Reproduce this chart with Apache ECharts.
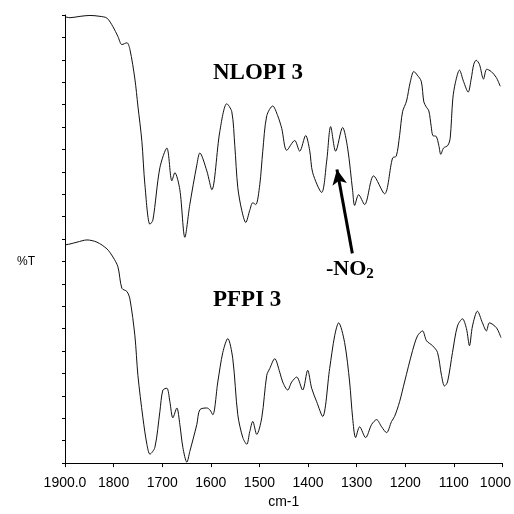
<!DOCTYPE html>
<html>
<head>
<meta charset="utf-8">
<script src="https://cdn.jsdelivr.net/npm/echarts@6/dist/echarts.min.js"></script>
<style>
html, body { margin: 0; padding: 0; background: #fff; }
#chart { width: 514px; height: 514px; }
</style>
</head>
<body>
<div id="chart"></div>
<script>
// wavenumbers (cm-1) and transmittance for the two spectra (top one offset)
var nlopiWn = [1900, 1889.7, 1869, 1848.6, 1828, 1813.7, 1801.4, 1791.1, 1782.9, 1772.6, 1766.4, 1756.2, 1750, 1741.8, 1735.6, 1725.3, 1719.2, 1704.8, 1690.4, 1680.1, 1674, 1663.7, 1653.4, 1643.2, 1628.8, 1622.6, 1608.2, 1597.9, 1581.5, 1567.1, 1556.8, 1550.7, 1544.5, 1536.3, 1528.1, 1519.9, 1513.7, 1507.5, 1499.3, 1493.1, 1484.9, 1472.6, 1462.3, 1454.1, 1443.8, 1427.4, 1417.1, 1404.8, 1396.6, 1390.4, 1371.9, 1361.6, 1353.4, 1343.1, 1328.8, 1318.5, 1308.2, 1304.1, 1295.9, 1283.6, 1265.1, 1242.5, 1226, 1218.4, 1211.6, 1205.5, 1197.3, 1189.7, 1182.3, 1175.3, 1167, 1161.7, 1156.8, 1151.4, 1146.5, 1143.2, 1136.2, 1130.9, 1126.8, 1121.2, 1112.4, 1107.5, 1102.1, 1096.6, 1088.4, 1080.1, 1070.5, 1064.3, 1059, 1054, 1047.3, 1039, 1032.3, 1023.2, 1012.9, 1004.5];
var nlopiT = [99.6, 99.4, 99.7, 99.9, 99.7, 99.3, 97.4, 95.2, 93.4, 93.8, 92.3, 85.7, 79.7, 71.8, 62.1, 53.3, 54.2, 65.9, 70.3, 63.0, 64.8, 61.0, 50.4, 57.7, 66.5, 69.2, 65.2, 61.0, 74.0, 80.2, 78.4, 70.9, 61.5, 56.4, 53.7, 56.4, 58.1, 57.7, 62.1, 69.6, 77.5, 79.7, 77.5, 74.7, 69.8, 72.0, 69.6, 73.1, 69.8, 64.8, 60.4, 67.4, 75.1, 69.6, 74.9, 70.3, 60.8, 57.5, 59.9, 57.7, 64.1, 60.1, 68.1, 68.5, 73.1, 78.4, 80.8, 85.0, 87.4, 86.6, 85.2, 80.6, 79.5, 78.6, 75.1, 73.1, 72.9, 70.9, 68.9, 70.3, 70.9, 72.5, 81.3, 85.0, 87.7, 85.2, 82.8, 85.7, 89.0, 89.9, 89.0, 85.7, 87.9, 87.4, 86.1, 84.1];

var pfpiWn = [1900, 1889.7, 1875.3, 1854.8, 1834.2, 1813.7, 1801.4, 1791.1, 1782.9, 1772.6, 1766.4, 1756.2, 1750, 1739.7, 1731.5, 1725.3, 1715.1, 1704.8, 1698.6, 1690.4, 1684.2, 1678.1, 1669.9, 1663.7, 1657.5, 1649.3, 1643.2, 1628.8, 1622.6, 1608.2, 1602.1, 1595.9, 1585.6, 1575.3, 1565.1, 1554.8, 1544.5, 1534.2, 1526, 1519.9, 1513.7, 1505.5, 1495.2, 1484.9, 1478.8, 1468.5, 1458.2, 1452.1, 1441.8, 1433.6, 1423.3, 1411, 1400.7, 1392.5, 1382.2, 1369.9, 1355.5, 1345.2, 1337, 1324.7, 1314.4, 1308.2, 1302.1, 1293.8, 1281.5, 1269.2, 1258.9, 1248.6, 1238.4, 1228.1, 1221.9, 1211.6, 1201.4, 1184.9, 1174.7, 1164.4, 1156.2, 1143.8, 1133.6, 1125.4, 1119.2, 1113, 1102.7, 1092.5, 1082.2, 1074, 1067.8, 1061.6, 1051.4, 1041.1, 1032.9, 1026.7, 1012.3, 1003];
var pfpiT = [48.7, 48.9, 49.3, 49.8, 49.3, 47.8, 46.0, 43.8, 39.0, 38.3, 36.6, 28.4, 19.6, 10.1, 4.2, 2.0, 3.5, 11.5, 16.3, 16.7, 13.7, 10.1, 12.3, 8.6, 3.5, 0.2, 2.6, 8.6, 11.9, 12.3, 11.9, 10.8, 18.1, 24.7, 27.8, 23.3, 10.8, 5.7, 4.2, 7.0, 9.3, 6.4, 10.1, 19.6, 21.1, 23.3, 20.3, 18.1, 16.3, 18.1, 19.2, 16.3, 20.7, 16.7, 13.7, 10.4, 21.1, 28.4, 31.3, 26.9, 18.1, 10.1, 5.7, 8.1, 5.7, 8.6, 9.7, 8.1, 6.8, 9.3, 10.4, 13.7, 18.1, 25.1, 28.4, 29.5, 27.3, 26.2, 24.7, 19.6, 17.2, 18.1, 24.7, 30.6, 32.2, 30.0, 26.2, 30.6, 33.9, 31.3, 29.5, 31.3, 30.2, 28.0];

var xTicks = [1000, 1100, 1200, 1300, 1400, 1500, 1600, 1700, 1800, 1900];

// arrow pointing at the nitro band: [wavenumber, %T]
var arrowFrom = [1308.8, 46.8];
var arrowTo = [1340.5, 65.5];

function zip(a, b) {
    return a.map(function (v, i) { return [v, b[i]]; });
}

var chartDom = document.getElementById('chart');
var myChart = echarts.init(chartDom);
var option;

var lineCol = '#111';

option = {
    animation: false,
    backgroundColor: '#fff',
    grid: {
        left: 65,
        right: 11,
        top: 15,
        bottom: 45
    },
    xAxis: {
        type: 'value',
        inverse: true,
        min: xTicks[0],
        max: xTicks[xTicks.length - 1],
        interval: 100,
        name: 'cm-1',
        nameLocation: 'middle',
        nameGap: 29,
        nameTextStyle: { color: '#000', fontSize: 14, fontFamily: 'Liberation Sans' },
        axisLine: { lineStyle: { color: '#000', width: 1 } },
        axisTick: { length: 4, lineStyle: { color: '#000' } },
        splitLine: { show: false },
        axisLabel: {
            color: '#000',
            fontSize: 14,
            fontFamily: 'Liberation Sans',
            margin: 13,
            formatter: function (v) {
                if (v === 1900) return '1900.0';
                if (v === 1000) return '{last|1000}';
                return String(v);
            },
            rich: {
                last: { fontSize: 14, fontFamily: 'Liberation Sans', color: '#000', padding: [0, 14, 0, 0] }
            }
        }
    },
    yAxis: {
        type: 'value',
        min: 0,
        max: 100,
        interval: 5,
        name: '%T',
        nameLocation: 'middle',
        nameRotate: 0,
        nameGap: 30,
        nameTextStyle: {
            color: '#000',
            fontSize: 12,
            fontFamily: 'Liberation Sans',
            verticalAlign: 'top',
            padding: [17, 0, 0, 0]
        },
        axisLine: { show: true, lineStyle: { color: '#000', width: 1 } },
        axisTick: { show: true, length: 3, lineStyle: { color: '#000' } },
        axisLabel: { show: false },
        splitLine: { show: false }
    },
    series: [
        {
            name: 'NLOPI 3',
            type: 'line',
            data: zip(nlopiWn, nlopiT),
            showSymbol: false,
            smooth: 0.3,
            lineStyle: { color: lineCol, width: 1 },
            markLine: {
                silent: true,
                symbol: ['none', 'arrow'],
                symbolSize: [11, 15],
                label: { show: false },
                lineStyle: { color: '#000', width: 3, type: 'solid' },
                data: [[
                    { coord: arrowFrom },
                    { coord: arrowTo }
                ]]
            }
        },
        {
            name: 'PFPI 3',
            type: 'line',
            data: zip(pfpiWn, pfpiT),
            showSymbol: false,
            smooth: 0.3,
            lineStyle: { color: lineCol, width: 1 }
        }
    ],
    graphic: [
        {
            type: 'text',
            left: 213,
            top: 62,
            style: { text: 'NLOPI 3', fill: '#000', font: 'bold 23px "Liberation Serif"' }
        },
        {
            type: 'text',
            left: 213,
            top: 289,
            style: { text: 'PFPI 3', fill: '#000', font: 'bold 23px "Liberation Serif"' }
        },
        {
            type: 'text',
            left: 326,
            top: 258,
            style: {
                text: '{a|-NO}{s|2}',
                rich: {
                    a: { fontSize: 22, fontWeight: 'bold', fontFamily: 'Liberation Serif', fill: '#000' },
                    s: { fontSize: 15, fontWeight: 'bold', fontFamily: 'Liberation Serif', fill: '#000', padding: [10, 0, 0, 0] }
                }
            }
        }
    ]
};

option && myChart.setOption(option);
window.addEventListener('resize', function () {
    myChart.resize();
});
</script>
</body>
</html>
